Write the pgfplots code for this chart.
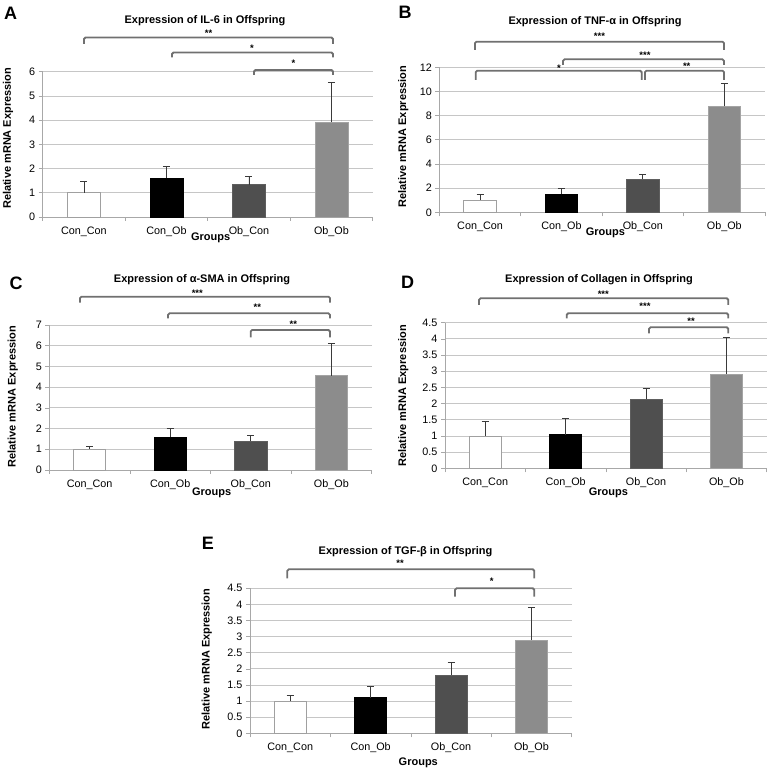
\documentclass[border=0pt]{standalone}
\usepackage{fontspec}
\setmainfont{Liberation Sans}
\usepackage{pgfplots}
\pgfplotsset{compat=1.18}
\definecolor{gridgray}{HTML}{C6C6C6}
\definecolor{axgray}{HTML}{A8A8A8}
\definecolor{brgray}{HTML}{707070}
\definecolor{errgray}{HTML}{3A3A3A}
\definecolor{edgeA}{HTML}{A0A0A0}
\definecolor{fillC}{HTML}{4F4F4F}
\definecolor{edgeC}{HTML}{5E5E5E}
\definecolor{fillD}{HTML}{8C8C8C}
\definecolor{edgeD}{HTML}{A4A4A4}
\pgfplotsset{
  panel/.style={
    scale only axis, anchor=south west, clip=false,
    xmin=-0.5, xmax=3.5, ymin=0,
    xtick={-0.5,0.5,1.5,2.5,3.5},
    xticklabels={Con\_Con,Con\_Ob,Ob\_Con,Ob\_Ob},
    x tick label as interval,
    tick align=outside, major tick length=4pt,
    xtick style={draw=axgray, line width=0.6pt},
    ytick style={draw=axgray, line width=0.6pt},
    axis x line*=bottom, axis y line*=left,
    axis line style={draw=axgray, line width=0.8pt},
    ymajorgrids, grid style={draw=gridgray, line width=0.8pt},
    tick label style={font=\fontsize{10.8}{12}\selectfont},
    xticklabel style={yshift=-2pt},
    /pgf/number format/assume math mode=true,
  },
  mybar/.style={ybar, bar width=0.4, bar shift=0pt, line width=0.8pt,
    error bars/y dir=plus, error bars/y explicit,
    error bars/error mark=-,
    error bars/error bar style={draw=errgray, line width=0.8pt},
    error bars/error mark options={rotate=90, draw=errgray, line width=0.8pt, mark size=3.5pt}},
}
\newcommand{\br}[7]{%
  \draw[brgray, line width=1.8pt, rounded corners=1.5pt] (#1,#4) -- (#1,#3) -- (#2,#3) -- (#2,#4);
  \node[font=\bfseries\fontsize{9.5}{10}\selectfont, anchor=base, inner sep=0pt] at (#5,#6) {#7};}
\newcommand{\ttl}[3]{\node[font=\bfseries\fontsize{11}{12}\selectfont, anchor=base, inner sep=0pt] at (#1,#2) {#3};}
\newcommand{\lett}[3]{\node[font=\bfseries\fontsize{18}{20}\selectfont, anchor=base west, inner sep=0pt] at (#1,#2) {#3};}
\newcommand{\ylab}[2]{\node[font=\bfseries\fontsize{11}{12}\selectfont, rotate=90, inner sep=0pt] at (#1,#2) {Relative mRNA Expression};}
\newcommand{\grp}[2]{\node[font=\bfseries\fontsize{11}{12}\selectfont, inner sep=0pt] at (#1,#2) {Groups};}
\begin{document}
\begin{tikzpicture}
\path[use as bounding box] (0pt,0pt) rectangle (773pt,773pt);
% ---------- A ----------
\begin{axis}[panel, at={(42.7pt,556pt)}, width=330pt, height=145.3pt, ymax=6, ytick={0,1,...,6}]
\addplot[mybar, fill=white, draw=edgeA] coordinates {(0,1.0) +- (0,0.45)};
\addplot[mybar, fill=black, draw=black] coordinates {(1,1.6) +- (0,0.5)};
\addplot[mybar, fill=fillC, draw=edgeC] coordinates {(2,1.33) +- (0,0.34)};
\addplot[mybar, fill=fillD, draw=edgeD] coordinates {(3,3.92) +- (0,1.64)};
\end{axis}
% ---------- B ----------
\begin{axis}[panel, at={(439.3pt,560.7pt)}, width=325.7pt, height=145pt, ymax=12, ytick={0,2,...,12}]
\addplot[mybar, fill=white, draw=edgeA] coordinates {(0,1.0) +- (0,0.47)};
\addplot[mybar, fill=black, draw=black] coordinates {(1,1.48) +- (0,0.5)};
\addplot[mybar, fill=fillC, draw=edgeC] coordinates {(2,2.76) +- (0,0.36)};
\addplot[mybar, fill=fillD, draw=edgeD] coordinates {(3,8.77) +- (0,1.91)};
\end{axis}
% ---------- C ----------
\begin{axis}[panel, at={(49.3pt,303pt)}, width=322.4pt, height=145pt, ymax=7, ytick={0,1,...,7}]
\addplot[mybar, fill=white, draw=edgeA] coordinates {(0,1.0) +- (0,0.13)};
\addplot[mybar, fill=black, draw=black] coordinates {(1,1.59) +- (0,0.41)};
\addplot[mybar, fill=fillC, draw=edgeC] coordinates {(2,1.4) +- (0,0.27)};
\addplot[mybar, fill=fillD, draw=edgeD] coordinates {(3,4.55) +- (0,1.58)};
\end{axis}
% ---------- D ----------
\begin{axis}[panel, at={(445pt,304.7pt)}, width=321.7pt, height=145.6pt, ymax=4.5, ytick={0,0.5,...,4.5}]
\addplot[mybar, fill=white, draw=edgeA] coordinates {(0,1.0) +- (0,0.46)};
\addplot[mybar, fill=black, draw=black] coordinates {(1,1.04) +- (0,0.5)};
\addplot[mybar, fill=fillC, draw=edgeC] coordinates {(2,2.13) +- (0,0.34)};
\addplot[mybar, fill=fillD, draw=edgeD] coordinates {(3,2.91) +- (0,1.13)};
\end{axis}
% ---------- E ----------
\begin{axis}[panel, at={(250pt,39.7pt)}, width=321.7pt, height=145pt, ymax=4.5, ytick={0,0.5,...,4.5}]
\addplot[mybar, fill=white, draw=edgeA] coordinates {(0,1.0) +- (0,0.19)};
\addplot[mybar, fill=black, draw=black] coordinates {(1,1.1) +- (0,0.35)};
\addplot[mybar, fill=fillC, draw=edgeC] coordinates {(2,1.81) +- (0,0.4)};
\addplot[mybar, fill=fillD, draw=edgeD] coordinates {(3,2.89) +- (0,1.01)};
\end{axis}
% ---------- annotations (image pixel coordinates) ----------
\begin{scope}[x=1pt, y=-1pt, shift={(0pt,773pt)}]
% A
\lett{4}{19.3}{A}
\ttl{205}{23.5}{Expression of IL-6 in Offspring}
\br{84}{333}{37.5}{44}{208.5}{36.7}{**}
\br{172}{333}{52.5}{57.5}{252}{52}{*}
\br{254}{333}{70}{75}{293.5}{66.7}{*}
\ylab{8}{138.3}
\grp{210.7}{238.3}
% B
\lett{398.3}{18.3}{B}
\ttl{595}{25}{Expression of TNF-α in Offspring}
\br{475}{724}{41.7}{50}{599.5}{40}{***}
\br{563}{724}{59.3}{65}{645}{58.3}{***}
\br{475.7}{641.7}{70.7}{80}{559}{71.7}{*}
\br{645}{724}{70.7}{80}{686.7}{70}{**}
\ylab{403.3}{136.7}
\grp{605.3}{233.3}
% C
\lett{9.3}{289.3}{C}
\ttl{202}{282.3}{Expression of α-SMA in Offspring}
\br{80}{330}{296.7}{302.7}{197.3}{296.7}{***}
\br{168}{330}{313.3}{318.3}{257.3}{311}{**}
\br{250.7}{330}{330}{337.3}{293.3}{327.7}{**}
\ylab{12.7}{396.7}
\grp{211.7}{492.7}
% D
\lett{401}{288.3}{D}
\ttl{599}{282.3}{Expression of Collagen in Offspring}
\br{479}{728.3}{298.3}{305}{603.3}{297.7}{***}
\br{566.7}{728.3}{313.3}{318.3}{645}{310}{***}
\br{649}{728.3}{327.3}{333.3}{691}{325}{**}
\ylab{403.3}{395.8}
\grp{608.3}{493.3}
% E
\lett{201.7}{550}{E}
\ttl{405.5}{555}{Expression of TGF-β in Offspring}
\br{287.3}{534.3}{569.3}{578.3}{400}{566.7}{**}
\br{455}{534.3}{588.3}{596.7}{491.7}{585}{*}
\ylab{206.7}{659.2}
\grp{418.3}{763.3}
\end{scope}
\end{tikzpicture}
\end{document}
